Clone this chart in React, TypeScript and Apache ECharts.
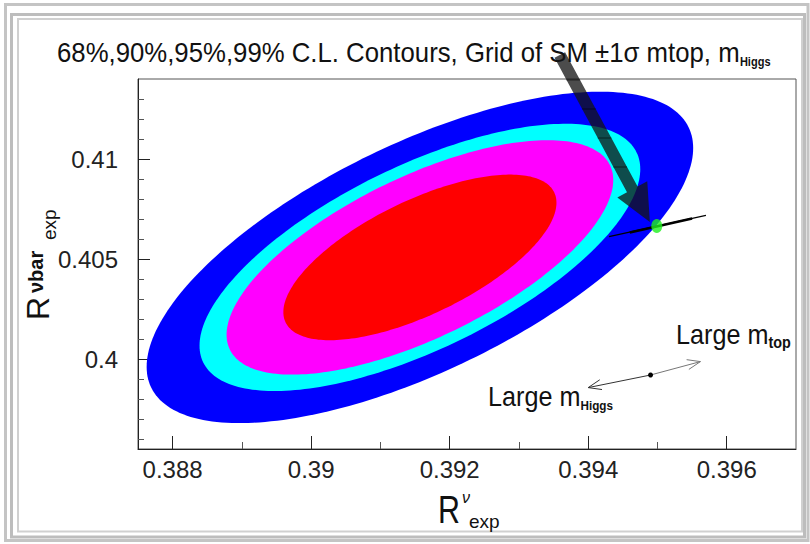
import React, { useEffect, useRef } from "react";
import * as echarts from "echarts";

// ---- axes ----
const X_MIN = 0.3875;
const X_MAX = 0.397;
const Y_MIN = 0.3955;
const Y_MAX = 0.414;
const xMajorTicks = [0.388, 0.39, 0.392, 0.394, 0.396];
const xMinorTicks = [0.389, 0.391, 0.393, 0.395];
const yMajorTicks = [0.4, 0.405, 0.41];
const yMinorTicks = [
  0.396, 0.397, 0.398, 0.399, 0.401, 0.402, 0.403, 0.404, 0.406, 0.407, 0.408,
  0.409, 0.411, 0.412, 0.413,
];

// ---- confidence-level contours (2D gaussian fit) ----
const clLabels = ["99%", "95%", "90%", "68%"];
const clChi2 = [9.21, 5.99, 4.61, 2.3];
const clColors = ["#0000ff", "#00ffff", "#ff00ff", "#ff0000"];
const fitCenter = [0.39157, 0.40508];
const fitSigma = [0.0013, 0.00273];
const fitRho = 0.66;

// ---- SM prediction ----
const smPoint = [0.39499, 0.40665];
const smLineMtop = [
  [0.3943, 0.40612],
  [0.3957, 0.40718],
];
const smLineHiggs = [
  [0.3946, 0.40633],
  [0.3955, 0.40702],
];

// ---- annotations ----
const bigArrowTail = [0.39359, 0.4152];
const bigArrowTip = [0.39489, 0.40685];
const dirArrowLeft = [0.394, 0.39857];
const dirArrowMid = [0.3949, 0.3992];
const dirArrowRight = [0.39562, 0.39987];

const FONT = "'Liberation Sans', Arial, sans-serif";

export default function App() {
  const ref = useRef<HTMLDivElement>(null);
  useEffect(() => {
    const chart = echarts.init(ref.current!, null, { renderer: "svg" });
    const fmt = (v: number) => String(parseFloat(Number(v).toFixed(4)));
    const labelStyle = { fontFamily: FONT, fontSize: 24, color: "#222" };

    const option: any = {
      animation: false,
      backgroundColor: "#fff",
      grid: {
        left: 138,
        right: 14,
        top: 79,
        bottom: 95,
        show: true,
        borderColor: "#555",
        borderWidth: 1,
      },
      xAxis: [
        {
          type: "value",
          min: X_MIN,
          max: X_MAX,
          position: "bottom",
          axisLine: { show: true, lineStyle: { color: "#222", width: 1 } },
          axisTick: {
            show: true,
            inside: true,
            length: 13,
            customValues: xMajorTicks,
            lineStyle: { color: "#222", width: 1 },
          },
          axisLabel: {
            customValues: xMajorTicks,
            formatter: fmt,
            margin: 8,
            ...labelStyle,
          },
          splitLine: { show: false },
        },
        {
          type: "value",
          min: X_MIN,
          max: X_MAX,
          position: "bottom",
          axisLine: { show: false },
          axisTick: {
            show: true,
            inside: true,
            length: 7,
            customValues: xMinorTicks,
            lineStyle: { color: "#555", width: 1 },
          },
          axisLabel: { show: false },
          splitLine: { show: false },
        },
      ],
      yAxis: [
        {
          type: "value",
          min: Y_MIN,
          max: Y_MAX,
          position: "left",
          axisLine: { show: true, lineStyle: { color: "#222", width: 1 } },
          axisTick: {
            show: true,
            inside: true,
            length: 12,
            customValues: yMajorTicks,
            lineStyle: { color: "#222", width: 1 },
          },
          axisLabel: {
            customValues: yMajorTicks,
            formatter: fmt,
            margin: 20,
            ...labelStyle,
          },
          splitLine: { show: false },
        },
        {
          type: "value",
          min: Y_MIN,
          max: Y_MAX,
          position: "left",
          axisLine: { show: false },
          axisTick: {
            show: true,
            inside: true,
            length: 6,
            customValues: yMinorTicks,
            lineStyle: { color: "#555", width: 1 },
          },
          axisLabel: { show: false },
          splitLine: { show: false },
        },
      ],
      series: [
        {
          type: "custom",
          name: "contours",
          coordinateSystem: "cartesian2d",
          xAxisIndex: 0,
          yAxisIndex: 0,
          z: 1,
          data: clChi2.map((k, i) => [fitCenter[0], fitCenter[1], k, i]),
          encode: { x: 0, y: 1 },
          renderItem: (params: any, api: any) => {
            const i = params.dataIndex;
            const s = Math.sqrt(clChi2[i]);
            const q = Math.sqrt(1 - fitRho * fitRho);
            const pts: number[][] = [];
            const N = 240;
            for (let j = 0; j < N; j++) {
              const t = (2 * Math.PI * j) / N;
              const x = fitCenter[0] + s * fitSigma[0] * Math.cos(t);
              const y =
                fitCenter[1] +
                s * fitSigma[1] * (fitRho * Math.cos(t) + q * Math.sin(t));
              pts.push(api.coord([x, y]));
            }
            return {
              type: "polygon",
              shape: { points: pts },
              style: { fill: clColors[i], stroke: null },
            };
          },
        },
        {
          type: "line",
          name: "SM mtop",
          xAxisIndex: 0,
          yAxisIndex: 0,
          z: 3,
          data: smLineMtop,
          symbol: "none",
          lineStyle: { color: "#000", width: 1.3 },
        },
        {
          type: "line",
          name: "SM mHiggs",
          xAxisIndex: 0,
          yAxisIndex: 0,
          z: 3,
          data: smLineHiggs,
          symbol: "none",
          lineStyle: { color: "#000", width: 2.6 },
        },
        {
          type: "scatter",
          name: "SM",
          xAxisIndex: 0,
          yAxisIndex: 0,
          z: 4,
          data: [smPoint],
          symbol: "circle",
          symbolSize: [11, 14],
          itemStyle: { color: "#1ef01e" },
        },
        {
          type: "custom",
          name: "direction arrow",
          coordinateSystem: "cartesian2d",
          xAxisIndex: 0,
          yAxisIndex: 0,
          z: 5,
          clip: false,
          data: [[dirArrowMid[0], dirArrowMid[1]]],
          renderItem: (params: any, api: any) => {
            const a = api.coord(dirArrowLeft);
            const m = api.coord(dirArrowMid);
            const b = api.coord(dirArrowRight);
            const head = (tip: number[], from: number[]) => {
              const dx = tip[0] - from[0];
              const dy = tip[1] - from[1];
              const L = Math.hypot(dx, dy);
              const ux = dx / L;
              const uy = dy / L;
              const hl = 13;
              const hw = 5;
              return [
                [tip[0] - ux * hl - uy * hw, tip[1] - uy * hl + ux * hw],
                tip,
                [tip[0] - ux * hl + uy * hw, tip[1] - uy * hl - ux * hw],
              ];
            };
            return {
              type: "group",
              children: [
                {
                  type: "line",
                  shape: { x1: m[0], y1: m[1], x2: a[0], y2: a[1] },
                  style: { stroke: "#333", lineWidth: 1 },
                },
                {
                  type: "line",
                  shape: { x1: m[0], y1: m[1], x2: b[0], y2: b[1] },
                  style: { stroke: "#777", lineWidth: 1 },
                },
                {
                  type: "polyline",
                  shape: { points: head(a, b) },
                  style: { stroke: "#333", lineWidth: 1, fill: null },
                },
                {
                  type: "polyline",
                  shape: { points: head(b, a) },
                  style: { stroke: "#777", lineWidth: 1, fill: null },
                },
                {
                  type: "circle",
                  shape: { cx: m[0], cy: m[1], r: 2.5 },
                  style: { fill: "#000" },
                },
              ],
            };
          },
        },
        {
          type: "custom",
          name: "big arrow",
          coordinateSystem: "cartesian2d",
          xAxisIndex: 0,
          yAxisIndex: 0,
          z: 20,
          clip: false,
          data: [[bigArrowTip[0], bigArrowTip[1]]],
          renderItem: (params: any, api: any) => {
            const p0 = api.coord(bigArrowTail);
            const p1 = api.coord(bigArrowTip);
            const dx = p1[0] - p0[0];
            const dy = p1[1] - p0[1];
            const L = Math.hypot(dx, dy);
            const ux = dx / L;
            const uy = dy / L;
            const nx = -uy;
            const ny = ux;
            const hl = 37;
            const sw = 6;
            const hw = 17;
            const bx = p1[0] - ux * hl;
            const by = p1[1] - uy * hl;
            const pts = [
              [p0[0] + nx * sw, p0[1] + ny * sw],
              [bx + nx * sw, by + ny * sw],
              [bx + nx * hw, by + ny * hw],
              [p1[0], p1[1]],
              [bx - nx * hw, by - ny * hw],
              [bx - nx * sw, by - ny * sw],
              [p0[0] - nx * sw, p0[1] - ny * sw],
            ];
            const hatch: any[] = [];
            const half = sw / Math.abs(uy);
            for (let yy = p0[1] + 25; yy < by - 4; yy += 29) {
              const cx = p0[0] + ((yy - p0[1]) / dy) * dx;
              hatch.push({
                type: "line",
                shape: { x1: cx - half, y1: yy, x2: cx + half, y2: yy },
                style: { stroke: "rgba(0,0,0,0.55)", lineWidth: 1 },
              });
            }
            return {
              type: "group",
              children: [
                {
                  type: "polygon",
                  shape: { points: pts },
                  style: { fill: "rgba(20,20,20,0.76)", stroke: null },
                },
                ...hatch,
              ],
            };
          },
        },
      ],
      graphic: [
        // outer frame
        {
          type: "rect",
          z: 0,
          silent: true,
          shape: { x: 5.5, y: 4.5, width: 802.5, height: 536 },
          style: { fill: null, stroke: "#c4c4c4", lineWidth: 3 },
        },
        {
          type: "rect",
          z: 0,
          silent: true,
          shape: { x: 11.5, y: 14.5, width: 793, height: 522.5 },
          style: { fill: null, stroke: "#bdbdbd", lineWidth: 3 },
        },
        {
          type: "rect",
          z: 0,
          silent: true,
          shape: { x: 18, y: 19, width: 784, height: 512.5 },
          style: { fill: null, stroke: "#d0d0d0", lineWidth: 2 },
        },
        // title
        {
          type: "text",
          z: 1,
          x: 57,
          y: 38,
          scaleX: 0.92,
          style: {
            text: "{a|68%,90%,95%,99% C.L. Contours, Grid of SM ±1σ mtop, m}{b|Higgs}",
            verticalAlign: "top",
            align: "left",
            rich: {
              a: { fontFamily: FONT, fontSize: 28, lineHeight: 30, fill: "#111" },
              b: {
                fontFamily: FONT,
                fontSize: 12,
                fontWeight: "bold",
                lineHeight: 9,
                verticalAlign: "bottom",
                fill: "#111",
              },
            },
          },
        },
        // annotation: Large m_top
        {
          type: "text",
          z: 6,
          x: 676,
          y: 320,
          scaleX: 0.9,
          style: {
            text: "{a|Large m}{b|top}",
            verticalAlign: "top",
            align: "left",
            rich: {
              a: { fontFamily: FONT, fontSize: 28, lineHeight: 30, fill: "#111" },
              b: {
                fontFamily: FONT,
                fontSize: 16,
                fontWeight: "bold",
                lineHeight: 12,
                verticalAlign: "bottom",
                fill: "#111",
              },
            },
          },
        },
        // annotation: Large m_Higgs
        {
          type: "text",
          z: 6,
          x: 488,
          y: 382,
          scaleX: 0.9,
          style: {
            text: "{a|Large m}{b|Higgs}",
            verticalAlign: "top",
            align: "left",
            rich: {
              a: { fontFamily: FONT, fontSize: 28, lineHeight: 30, fill: "#111" },
              b: {
                fontFamily: FONT,
                fontSize: 13,
                fontWeight: "bold",
                lineHeight: 13,
                verticalAlign: "bottom",
                fill: "#111",
              },
            },
          },
        },
        // x-axis title
        {
          type: "group",
          z: 6,
          children: [
            {
              type: "text",
              x: 438,
              y: 510,
              scaleX: 0.8,
              style: { text: "R", fontFamily: FONT, fontSize: 38, verticalAlign: "middle", fill: "#111" },
            },
            {
              type: "text",
              x: 462,
              y: 497,
              style: { text: "ν", fontFamily: FONT, fontSize: 16, fontStyle: "italic", verticalAlign: "middle", fill: "#111" },
            },
            {
              type: "text",
              x: 469,
              y: 521,
              style: { text: "exp", fontFamily: FONT, fontSize: 19, verticalAlign: "middle", fill: "#111" },
            },
          ],
        },
        // y-axis title (rotated)
        {
          type: "group",
          z: 6,
          x: 38,
          y: 320,
          rotation: Math.PI / 2,
          children: [
            {
              type: "text",
              x: 0,
              y: 0,
              style: { text: "R", fontFamily: FONT, fontSize: 32, verticalAlign: "middle", fill: "#111" },
            },
            {
              type: "text",
              x: 27,
              y: -2,
              style: { text: "νbar", fontFamily: FONT, fontSize: 20, fontWeight: "bold", verticalAlign: "middle", fill: "#111" },
            },
            {
              type: "text",
              x: 80,
              y: 11,
              style: { text: "exp", fontFamily: FONT, fontSize: 19, verticalAlign: "middle", fill: "#111" },
            },
          ],
        },
      ],
    };

    chart.setOption(option);
    return () => chart.dispose();
  }, []);

  return (
    <div
      ref={ref}
      style={{ width: 810, height: 544, position: "absolute", left: 0, top: 0 }}
    />
  );
}
